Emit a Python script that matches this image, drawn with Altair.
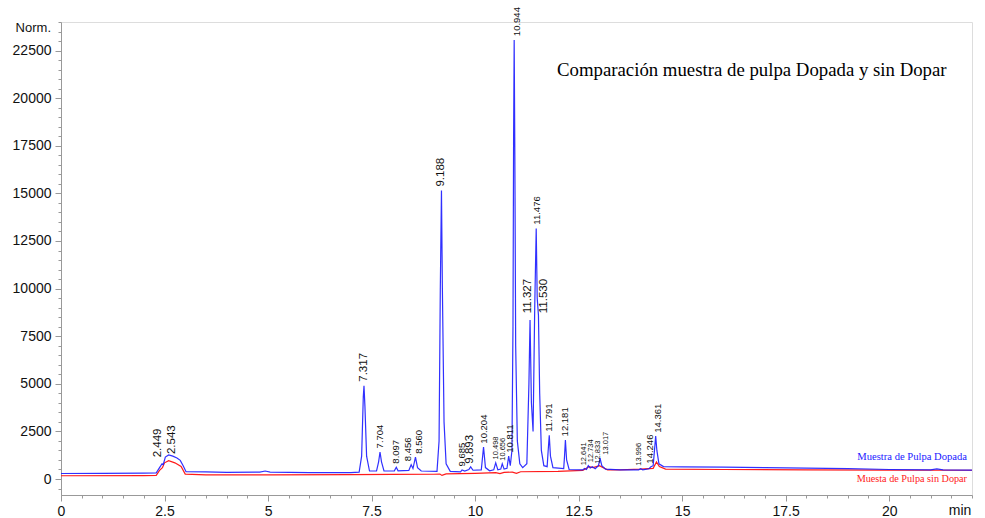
import altair as alt
import pandas as pd

# ---- Blue trace: Muestra de Pulpa Dopada ----
blue_t = [0.0, 1.0, 2.0, 2.3, 2.38, 2.44, 2.47, 2.52, 2.6, 2.7, 2.8, 2.88, 2.95, 3.02, 3.5, 4.0, 4.8, 4.93, 5.05,
          6.0, 7.0, 7.2, 7.26, 7.30, 7.317, 7.34, 7.38, 7.45, 7.62, 7.67, 7.704, 7.74, 7.80, 8.05, 8.097, 8.14,
          8.40, 8.456, 8.50, 8.56, 8.61, 8.70, 9.08, 9.13, 9.16, 9.188, 9.21, 9.25, 9.30, 9.40, 9.65, 9.685,
          9.75, 9.85, 9.893, 9.95, 10.15, 10.204, 10.25, 10.35, 10.45, 10.498, 10.55, 10.62, 10.656, 10.70,
          10.77, 10.811, 10.85, 10.89, 10.915, 10.93, 10.944, 10.96, 10.98, 11.02, 11.08, 11.15, 11.25, 11.30,
          11.327, 11.36, 11.40, 11.44, 11.476, 11.50, 11.53, 11.56, 11.60, 11.66, 11.74, 11.765, 11.791, 11.82,
          11.88, 12.14, 12.16, 12.181, 12.21, 12.27, 12.60, 12.641, 12.69, 12.734, 12.78, 12.833, 12.90, 12.98,
          13.017, 13.06, 13.15, 13.50, 13.95, 13.996, 14.05, 14.20, 14.246, 14.30, 14.34, 14.361, 14.39, 14.44,
          14.55, 15.0, 16.0, 17.0, 18.0, 19.0, 20.0, 21.0, 21.15, 21.3, 22.0]
blue_v = [290, 300, 310, 320, 600, 800, 760, 1150, 1260, 1200, 1100, 980, 700, 380, 370, 350, 360, 420, 360,
          330, 340, 360, 1200, 4300, 4900, 3800, 1200, 420, 420, 900, 1420, 900, 420, 430, 620, 430,
          450, 750, 550, 1150, 600, 420, 400, 2000, 10000, 15150, 10000, 3000, 800, 400, 380, 480,
          420, 500, 640, 460, 480, 1680, 600, 430, 480, 850, 480, 520, 800, 520,
          560, 1200, 700, 1500, 8000, 18000, 23050, 17000, 7000, 2000, 800, 600, 800, 5000,
          8350, 4000, 2500, 9000, 13150, 9500, 8600, 4500, 1500, 700, 650, 1500, 2300, 1200,
          600, 550, 1200, 2050, 1000, 500, 480, 550, 500, 700, 580, 640, 540, 700,
          1100, 700, 520, 480, 480, 540, 480, 540, 640, 700, 1700, 2250, 1500, 800,
          650, 640, 620, 600, 570, 540, 500, 480, 530, 480, 470]

# ---- Red trace: Muesta de Pulpa sin Dopar ----
red_t = [0.0, 2.0, 2.3, 2.38, 2.45, 2.5, 2.6, 2.75, 2.9, 3.0, 3.5, 5.0, 7.0, 8.0, 9.0, 9.15, 9.2, 9.3, 10.0,
         10.5, 10.6, 10.7, 10.9, 11.0, 11.1, 12.0, 12.6, 12.75, 12.85, 13.0, 13.2, 13.5, 14.0, 14.3, 14.38,
         14.45, 14.6, 16.0, 18.0, 20.0, 22.0]
red_v = [170, 180, 190, 450, 600, 850, 960, 850, 660, 260, 220, 220, 230, 240, 250, 260, 190, 270, 300,
         330, 280, 350, 360, 300, 380, 400, 450, 650, 600, 700, 480, 480, 520, 560, 900,
         650, 520, 500, 480, 470, 460]

# ---- Peak labels: text, where along the time axis the label sits, and the height where it starts ----
big_labels = ["2.449", "2.543", "7.317", "9.188", "9.893", "11.327", "11.530"]
big_pos = [2.35, 2.69, 7.317, 9.188, 9.87, 11.28, 11.66]
big_heights = [980, 1150, 4950, 15200, 650, 8550, 8550]
mid_labels = ["7.704", "8.097", "8.456", "8.560", "9.685", "10.204", "10.811", "10.944", "11.476",
              "11.791", "12.181", "14.246", "14.361"]
mid_pos = [7.704, 8.097, 8.37, 8.64, 9.68, 10.204, 10.84, 11.0, 11.50,
           11.791, 12.181, 14.23, 14.42]
mid_heights = [1450, 650, 780, 1170, 500, 1700, 1220, 23100, 13200, 2320, 2080, 650, 2270]
small_labels = ["10.498", "10.656", "12.641", "12.734", "12.833", "13.017", "13.996"]
small_pos = [10.50, 10.67, 12.63, 12.80, 12.97, 13.16, 13.96]
small_heights = [870, 800, 560, 720, 650, 1120, 540]

x_ticks = [0, 2.5, 5, 7.5, 10, 12.5, 15, 17.5, 20]
y_ticks = [0, 2500, 5000, 7500, 10000, 12500, 15000, 17500, 20000, 22500]
x_minor = [i * 0.5 for i in range(0, 45)]
y_minor = [i * 500 for i in range(-1, 49)]

title_text = ["Comparación muestra de pulpa Dopada y sin Dopar"]
legend_blue = ["Muestra de Pulpa Dopada"]
legend_red = ["Muesta de Pulpa sin Dopar"]

blue_df = pd.DataFrame({"t": blue_t, "v": blue_v})
red_df = pd.DataFrame({"t": red_t, "v": red_v})

xs = alt.Scale(domain=[0, 22], nice=False, zero=False)
ys = alt.Scale(domain=[-840, 24000], nice=False, zero=False)

axis_common = dict(grid=False, domainColor="#999999", tickColor="#999999", labelColor="#111111",
                   labelFontSize=14, labelFont="Liberation Sans", title=None)

major_x = alt.Axis(values=x_ticks, orient="bottom", tickSize=6, labelPadding=3,
                   labelExpr="datum.value + ''", labelFlush=False, **axis_common)
major_y = alt.Axis(values=y_ticks, orient="left", tickSize=6, labelPadding=4,
                   labelExpr="datum.value + ''", **axis_common)
minor_x = alt.Axis(values=x_minor, orient="bottom", tickSize=3, labels=False, domain=False,
                   grid=False, tickColor="#999999", title=None)
minor_y = alt.Axis(values=y_minor, orient="left", tickSize=3, labels=False, domain=False,
                   grid=False, tickColor="#999999", title=None)

red_line = alt.Chart(red_df).mark_line(color="#ff1a1a", strokeWidth=1.2).encode(
    x=alt.X("t:Q", scale=xs, axis=minor_x),
    y=alt.Y("v:Q", scale=ys, axis=minor_y),
)
blue_line = alt.Chart(blue_df).mark_line(color="#1a1aff", strokeWidth=1.2, opacity=0.9).encode(
    x=alt.X("t:Q", scale=xs, axis=major_x),
    y=alt.Y("v:Q", scale=ys, axis=major_y),
)


def peak_text(labels, pos, heights, size):
    df = pd.DataFrame({"lab": labels, "t": pos, "h": heights})
    return alt.Chart(df).mark_text(angle=270, align="left", baseline="middle", dx=3,
                                   fontSize=size, font="Liberation Sans", color="#111111").encode(
        x=alt.X("t:Q", scale=xs, axis=None),
        y=alt.Y("h:Q", scale=ys, axis=None),
        text="lab:N",
    )


def note(texts, x, y, size, color, font, align):
    return alt.Chart(pd.DataFrame({"s": texts})).mark_text(
        align=align, baseline="middle", fontSize=size, color=color, font=font
    ).encode(x=alt.value(x), y=alt.value(y), text="s:N")


layers = [
    red_line,
    blue_line,
    peak_text(big_labels, big_pos, big_heights, 11.5),
    peak_text(mid_labels, mid_pos, mid_heights, 9.5),
    peak_text(small_labels, small_pos, small_heights, 7.5),
    note(title_text, 496, 48, 18.8, "#000000", "Liberation Serif", "left"),
    note(legend_blue, 906, 435, 10.6, "#1a1aff", "Liberation Serif", "right"),
    note(legend_red, 906, 457, 10.2, "#ff1a1a", "Liberation Serif", "right"),
    note(["Norm."], -10, 6, 13, "#111111", "Liberation Sans", "right"),
    note(["min"], 899, 489, 14, "#111111", "Liberation Sans", "center"),
]

chart = alt.layer(*layers).resolve_axis(x="independent", y="independent").properties(
    width=911, height=473,
    padding={"left": 61, "top": 22, "right": 13, "bottom": 23},
    autosize=alt.AutoSizeParams(type="none"),
).configure_view(stroke=None).configure(background="white")

chart.save("out.html", embed_options={"renderer": "svg", "actions": False})
